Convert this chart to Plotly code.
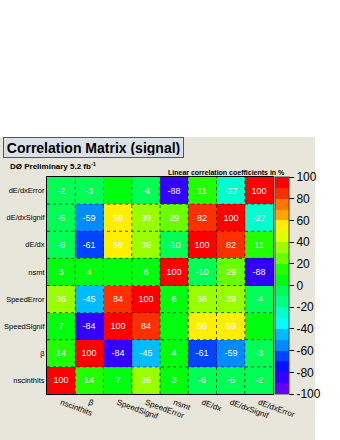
import colorsys
import plotly.graph_objects as go

variables = ["nscinthits", "β", "SpeedSignif", "SpeedError", "nsmt", "dE/dx", "dE/dxSignif", "dE/dxError"]

# rows listed bottom (nscinthits) to top (dE/dxError); columns in the same order
row_nscinthits = [100, 14, 7, 36, 3, -6, -5, -2]
row_beta = [14, 100, -84, -45, 4, -61, -59, -3]
row_speedsignif = [7, -84, 100, 84, 0, 59, 59, 0]
row_speederror = [36, -45, 84, 100, 6, 36, 39, -4]
row_nsmt = [3, 4, 0, 6, 100, -10, 29, -88]
row_dedx = [-6, -61, 59, 36, -10, 100, 82, 11]
row_dedxsignif = [-5, -59, 59, 39, 29, 82, 100, -27]
row_dedxerror = [-2, -3, 0, -4, -88, 11, -27, 100]

z = [row_nscinthits, row_beta, row_speedsignif, row_speederror,
     row_nsmt, row_dedx, row_dedxsignif, row_dedxerror]
text = [[("" if v == 0 else str(v)) for v in row] for row in z]

colorbar_ticks = [-100, -80, -60, -40, -20, 0, 20, 40, 60, 80, 100]
colorbar_labels = [str(v) for v in colorbar_ticks]

# ROOT "pretty" palette (50 colours) mapped onto 20 contour levels
NCOL, NDIV = 50, 20
def root_color(k):
    idx = int((k + 0.99) * NCOL / NDIV)
    hue = 280 - (idx + 1) * 280.0 / NCOL
    r, g, b = colorsys.hls_to_rgb(hue / 360.0, 0.5, 1.0)
    return "rgb(%d,%d,%d)" % (round(r * 255), round(g * 255), round(b * 255))

eps = 1e-6
colorscale = []
for k in range(NDIV):
    c = root_color(k)
    colorscale.append([k / NDIV, c])
    colorscale.append([(k + 1) / NDIV - eps if k < NDIV - 1 else 1.0, c])

n = len(variables)
idx = list(range(n))

FONT = "Liberation Sans"

fig = go.Figure(go.Heatmap(
    z=z, x=idx, y=idx,
    text=text, texttemplate="%{text}",
    textfont=dict(family=FONT, size=9, color="white"),
    colorscale=colorscale, zmin=-100, zmax=100,
    hoverinfo="skip",
    colorbar=dict(
        x=1.0088, xanchor="left", xpad=0, y=0.5, yanchor="middle",
        len=1, lenmode="fraction", thickness=14, ypad=0,
        outlinecolor="#444", outlinewidth=1,
        tickvals=colorbar_ticks, ticktext=colorbar_labels,
        ticks="outside", ticklen=5, tickcolor="black",
        tickfont=dict(family=FONT, size=12, color="black"),
    ),
))

# dotted cell boundaries
shapes = []
for i in range(1, n):
    shapes.append(dict(type="line", xref="x", yref="paper", x0=i - 0.5, x1=i - 0.5, y0=0, y1=1,
                       line=dict(color="#222", width=0.8, dash="dot"), layer="above"))
    shapes.append(dict(type="line", xref="paper", yref="y", x0=0, x1=1, y0=i - 0.5, y1=i - 0.5,
                       line=dict(color="#222", width=0.8, dash="dot"), layer="above"))
# beige canvas
shapes.append(dict(type="rect", xref="paper", yref="paper",
                   x0=-0.208, x1=1.186, y0=-0.212, y1=1.184,
                   fillcolor="#e8e5da", line=dict(width=0), layer="below"))

fig.update_layout(
    width=340, height=440,
    margin=dict(l=47, r=67, t=177, b=46, autoexpand=False),
    paper_bgcolor="white", plot_bgcolor="#e8e5da",
    shapes=shapes,
    xaxis=dict(range=[-0.5, n - 0.5], tickvals=idx, ticktext=variables, tickangle=20,
               automargin=False,
               showgrid=False, zeroline=False, showline=True, linecolor="black", linewidth=1,
               mirror=True, ticks="", tickfont=dict(family=FONT, size=8, color="black")),
    yaxis=dict(range=[-0.5, n - 0.5], tickvals=idx, ticktext=variables,
               automargin=False,
               showgrid=False, zeroline=False, showline=True, linecolor="black", linewidth=1,
               mirror=True, ticks="", tickfont=dict(family=FONT, size=7.5, color="black")),
    annotations=[
        dict(text="<b>Correlation Matrix (signal)</b>", xref="paper", yref="paper",
             x=0.2058, y=1.136, xanchor="center", yanchor="middle", showarrow=False,
             font=dict(family=FONT, size=14, color="black"),
             bgcolor="#dbe1e9", bordercolor="#555", borderwidth=1, borderpad=2,
             width=175, height=15),
        dict(text="<b>DØ Preliminary 5.2 fb<sup>-1</sup></b>", xref="paper", yref="paper",
             x=-0.1726, y=1.0507, xanchor="left", yanchor="middle", showarrow=False,
             font=dict(family=FONT, size=8, color="black")),
        dict(text="<b>Linear correlation coefficients in %</b>", xref="paper", yref="paper",
             x=1.062, y=1.023, xanchor="right", yanchor="middle", showarrow=False,
             font=dict(family=FONT, size=7, color="black")),
    ],
)

fig.write_html("out.html", config={"displayModeBar": False},
               post_script="document.body.style.margin='0';document.body.style.overflow='hidden';")
